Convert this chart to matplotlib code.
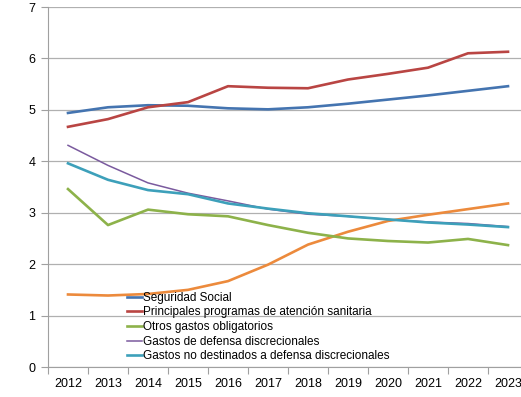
import matplotlib
matplotlib.use('Agg')
import matplotlib.pyplot as plt
import numpy as np

plt.rcParams['font.family'] = ['Liberation Sans', 'DejaVu Sans']

years = ['2012', '2013', '2014', '2015', '2016', '2017', '2018', '2019', '2020', '2021', '2022', '2023']

seguridad_social = [4.94, 5.05, 5.09, 5.08, 5.03, 5.01, 5.05, 5.12, 5.20, 5.28, 5.37, 5.46]
atencion_sanitaria = [4.67, 4.82, 5.05, 5.15, 5.46, 5.43, 5.42, 5.59, 5.70, 5.82, 6.10, 6.13]
otros_obligatorios = [3.46, 2.76, 3.06, 2.97, 2.93, 2.76, 2.61, 2.50, 2.45, 2.42, 2.49, 2.37]
defensa_discr = [4.31, 3.92, 3.58, 3.38, 3.23, 3.07, 2.97, 2.93, 2.87, 2.82, 2.79, 2.73]
no_defensa_discr = [3.96, 3.64, 3.44, 3.36, 3.18, 3.08, 2.99, 2.93, 2.87, 2.81, 2.77, 2.72]
intereses = [1.41, 1.39, 1.42, 1.50, 1.67, 1.99, 2.38, 2.63, 2.84, 2.96, 3.07, 3.18]

labels = ['Seguridad Social',
          'Principales programas de atención sanitaria',
          'Otros gastos obligatorios',
          'Gastos de defensa discrecionales',
          'Gastos no destinados a defensa discrecionales']

fig = plt.figure(figsize=(5.21, 3.97), dpi=100)
ax = fig.add_axes([48 / 521, 30 / 397, 480 / 521, 360 / 397])

x = np.arange(len(years))
ax.plot(x, intereses, color='#EC8A3C', lw=1.9)
ax.plot(x, seguridad_social, color='#4474B0', lw=1.9, label=labels[0])
ax.plot(x, atencion_sanitaria, color='#B94543', lw=1.9, label=labels[1])
ax.plot(x, otros_obligatorios, color='#8DB24A', lw=1.9, label=labels[2])
ax.plot(x, defensa_discr, color='#7A5A9E', lw=1.1, label=labels[3])
ax.plot(x, no_defensa_discr, color='#3DA0BA', lw=1.9, label=labels[4])

ax.set_xlim(-0.5, 11.5)
ax.set_ylim(0, 7)
ax.set_yticks(range(0, 8))
ax.grid(axis='y', color='#b0b0b0', lw=0.9)
ax.set_axisbelow(True)

# ticks between categories, labels at centres
ax.set_xticks(np.arange(-0.5, 12, 1))
ax.set_xticklabels([])
ax.set_xticks(x, minor=True)
ax.set_xticklabels(years, minor=True)
ax.tick_params(axis='x', which='major', length=5, color='#a0a0a0')
ax.tick_params(axis='x', which='minor', length=0, pad=8, labelsize=9)
ax.tick_params(axis='y', length=5, color='#a0a0a0', labelsize=9, pad=4)

for s in ['top', 'right']:
    ax.spines[s].set_visible(False)
for s in ['left', 'bottom']:
    ax.spines[s].set_color('#a0a0a0')

leg = ax.legend(loc='lower left', bbox_to_anchor=(74 / 480, 0.0), frameon=False,
                fontsize=8.5, handlelength=1.3, handletextpad=0.05,
                labelspacing=0.22, borderaxespad=0.2, borderpad=0.2)

fig.savefig('out.png', dpi=100)
